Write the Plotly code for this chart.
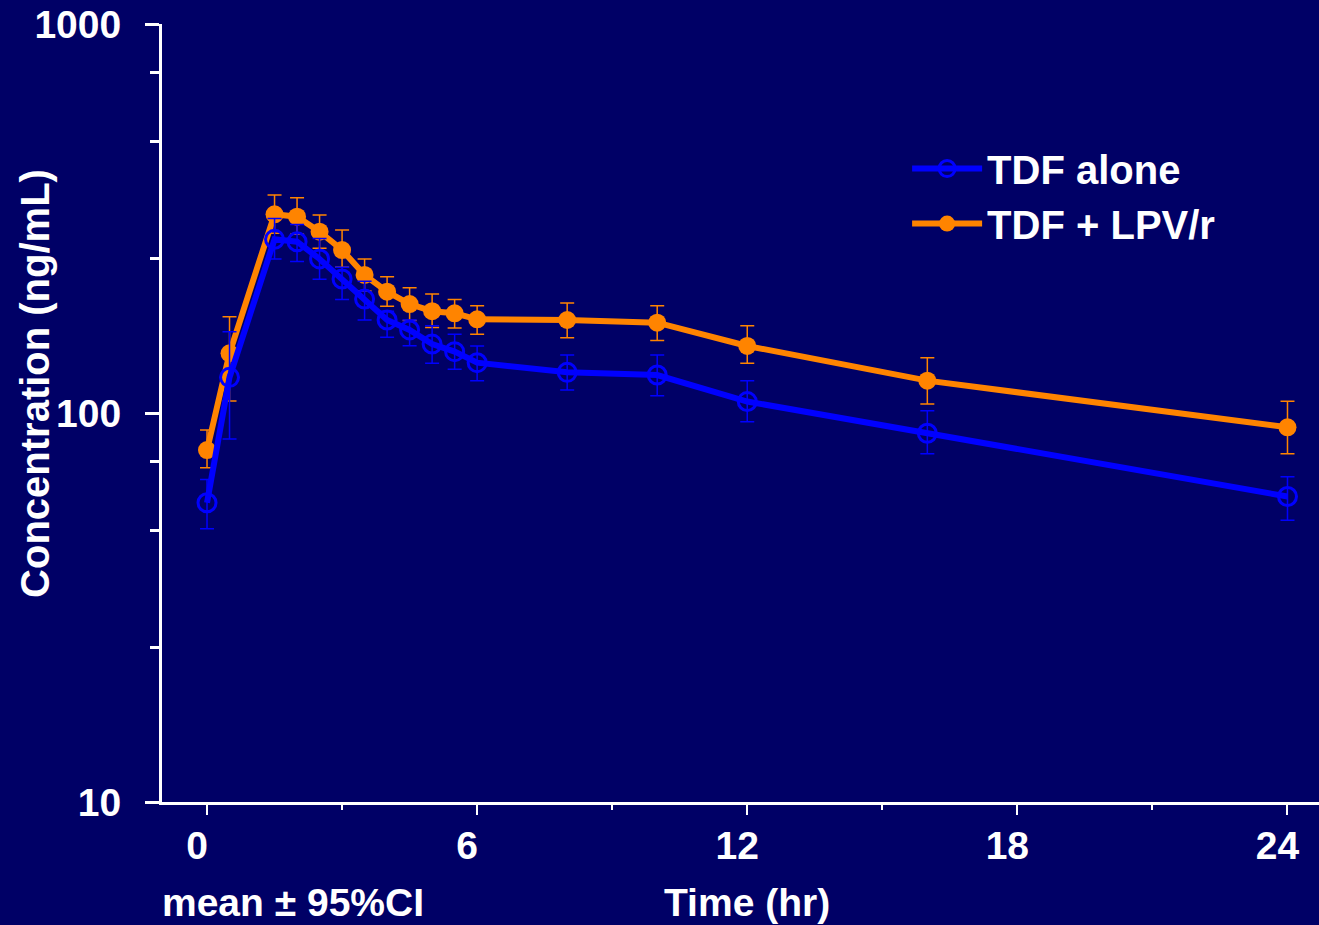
import plotly.graph_objects as go

times = [0, 0.5, 1.5, 2, 2.5, 3, 3.5, 4, 4.5, 5, 5.5, 6, 8, 10, 12, 16, 24]

alone_mean = [58.8, 123.5, 279.6, 275.6, 248.9, 221, 196.3, 173.4, 163.5, 150.4, 143.8, 134.7, 127.2, 125.2, 107, 88.7, 61]
alone_upper = [67.5, 161.8, 316, 305, 281, 236.9, 218, 182.7, 173.4, 167.6, 159.4, 148.7, 140.9, 140.9, 121.1, 101.4, 68.6]
alone_lower = [50.4, 85.7, 248.9, 245, 220.7, 195.9, 173.4, 156.5, 148.9, 134.3, 129.5, 121.1, 114.6, 110.8, 95, 78.6, 53]

lpv_mean = [80.3, 142.4, 324.2, 319.6, 292.4, 262.4, 226.4, 205.1, 190.6, 182.7, 180.4, 174.1, 173.4, 170.7, 148.7, 121.1, 91.9]
lpv_upper = [90.4, 176.8, 363.4, 357.5, 322.9, 295.2, 248.9, 224, 209.8, 202.4, 195.9, 188.7, 191.8, 188.7, 167.6, 138.7, 107.2]
lpv_lower = [72.3, 107.4, 290, 288, 265, 236.9, 206, 188, 173, 166, 165.3, 159.4, 156.2, 153.5, 134.2, 105.5, 78.6]

x_major = [0, 6, 12, 18, 24]
x_minor = [3, 9, 15, 21]
y_major = [10, 100, 1000]
y_minor = [25, 50, 75, 250, 500, 750]

BG = "#000066"
BLUE = "#0000FF"
ORANGE = "#FF8400"
FONT = "Liberation Sans"

fig = go.Figure()

fig.add_trace(go.Scatter(
    x=times, y=lpv_mean, name="TDF + LPV/r", mode="lines+markers",
    line=dict(color=ORANGE, width=6),
    marker=dict(symbol="circle", size=18, color=ORANGE),
    error_y=dict(type="data", symmetric=False,
                 array=[u - m for u, m in zip(lpv_upper, lpv_mean)],
                 arrayminus=[m - l for m, l in zip(lpv_mean, lpv_lower)],
                 color=ORANGE, thickness=1.5, width=7),
    legendrank=2,
))

fig.add_trace(go.Scatter(
    x=times, y=alone_mean, name="TDF alone", mode="lines+markers",
    line=dict(color=BLUE, width=6),
    marker=dict(symbol="circle-open", size=18, color=BLUE, line=dict(width=3, color=BLUE)),
    error_y=dict(type="data", symmetric=False,
                 array=[u - m for u, m in zip(alone_upper, alone_mean)],
                 arrayminus=[m - l for m, l in zip(alone_mean, alone_lower)],
                 color=BLUE, thickness=1.5, width=7),
    legendrank=1,
))

fig.update_layout(
    width=1319, height=925,
    paper_bgcolor=BG, plot_bgcolor=BG,
    margin=dict(l=162, r=0, t=24, b=123),
    font=dict(family=FONT, color="white", size=39),
    showlegend=True,
    legend=dict(x=0.644, y=0.856, xanchor="left", yanchor="top",
                bgcolor="rgba(0,0,0,0)", borderwidth=0,
                font=dict(family=FONT, size=40, color="white", weight="bold"),
                itemwidth=70, tracegroupgap=0),
)

fig.update_xaxes(
    range=[-1, 24.7], showgrid=False, zeroline=False,
    showline=True, linecolor="white", linewidth=3,
    tickmode="array", tickvals=x_major, ticktext=[str(v) for v in x_major],
    ticks="outside", ticklen=10, tickwidth=2, tickcolor="white",
    tickfont=dict(family=FONT, size=39, color="white", weight="bold"),
    ticklabelstandoff=-3, ticklabelshift=-10,
    minor=dict(tickvals=x_minor, ticks="outside", ticklen=5, tickwidth=2, tickcolor="white"),
)

fig.update_yaxes(
    type="log", range=[1, 3], showgrid=False, zeroline=False,
    showline=True, linecolor="white", linewidth=3,
    tickmode="array", tickvals=y_major, ticktext=[str(v) for v in y_major],
    ticks="outside", ticklen=14, tickwidth=3, tickcolor="white",
    tickfont=dict(family=FONT, size=39, color="white", weight="bold"),
    ticklabelstandoff=16,
    minor=dict(tickvals=y_minor, ticks="outside", ticklen=9, tickwidth=3, tickcolor="white"),
)

fig.add_annotation(text="Concentration (ng/mL)", xref="paper", yref="paper",
                   x=-0.1098, y=0.5386, xanchor="center", yanchor="middle",
                   textangle=-90, showarrow=False,
                   font=dict(family=FONT, size=40, color="white", weight="bold"))
fig.add_annotation(text="Time (hr)", xref="paper", yref="paper",
                   x=0.5056, y=-0.1298, xanchor="center", yanchor="middle",
                   showarrow=False,
                   font=dict(family=FONT, size=39, color="white", weight="bold"))
fig.add_annotation(text="mean ± 95%CI", xref="paper", yref="paper",
                   x=0.1132, y=-0.1298, xanchor="center", yanchor="middle",
                   showarrow=False,
                   font=dict(family=FONT, size=39, color="white", weight="bold"))

fig.write_html("out.html", config={"displayModeBar": False},
               post_script="document.body.style.margin='0';document.body.style.background='#000066';")
